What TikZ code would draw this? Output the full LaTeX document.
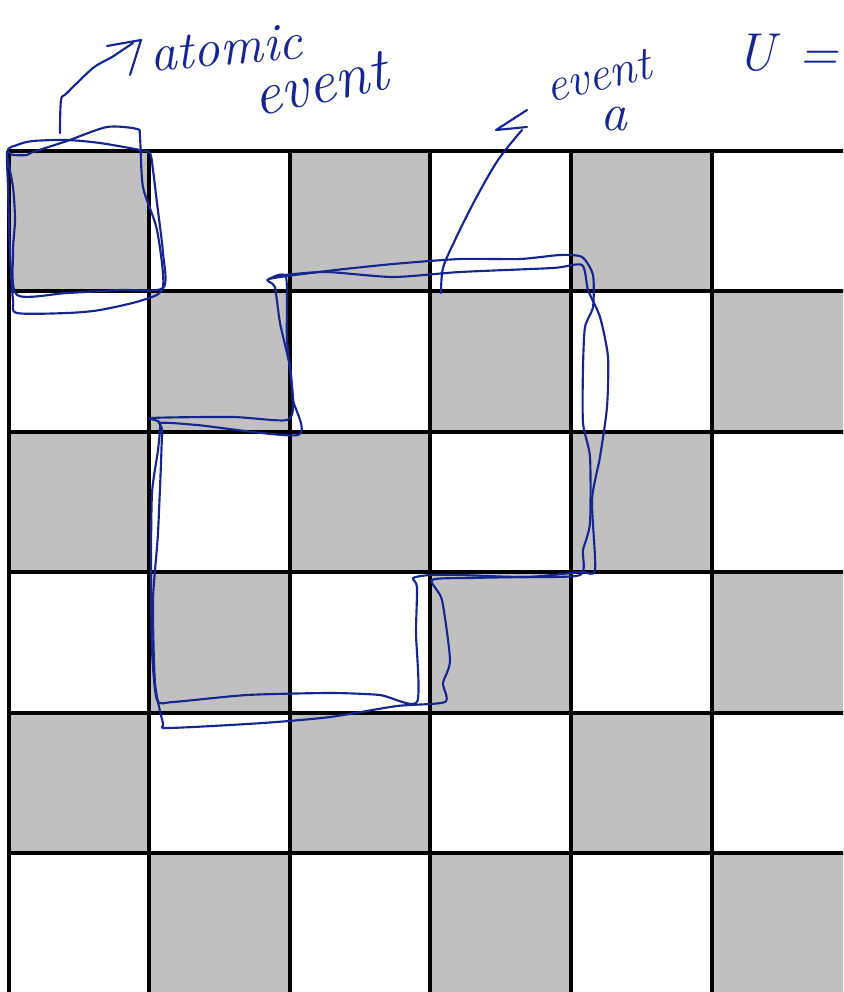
\documentclass[tikz,border=0pt]{standalone}
\usepackage{fontspec}
\definecolor{inkblue}{RGB}{22,38,145}
\definecolor{cellgray}{RGB}{192,192,192}
\begin{document}
\begin{tikzpicture}[x=0.75pt,y=-0.75pt,
  ink/.style={draw=inkblue,line width=1.6pt,line cap=round,line join=round},
  gridline/.style={draw=black,line width=3pt},
  hand/.style={text=inkblue,inner sep=0pt,font=\itshape\fontsize{40}{44}\selectfont}]
\useasboundingbox (0,0) rectangle (843,992);
\clip (0,0) rectangle (843,992);
\fill[white] (0,0) rectangle (843,992);
% checkerboard cells
\foreach \i in {0,...,5}{
  \foreach \j in {0,...,5}{
    \pgfmathtruncatemacro\cellpar{mod(\i+\j,2)}
    \ifnum\cellpar=0
      \fill[cellgray] (8.5+140.6*\i,151+140.4*\j) rectangle ++(140.6,140.4);
    \fi
  }
}
% grid lines
\foreach \k in {0,...,5}{
  \draw[gridline] (8.5+140.6*\k,151) -- (8.5+140.6*\k,1000);
  \draw[gridline] (7,151+140.4*\k) -- (850,151+140.4*\k);
}
% atomic event loop
\draw[ink] plot[smooth cycle,tension=0.45] coordinates {(7,152) (17,145) (33,141) (67,140) (100,143) (140,150) (150,153) (153,170) (157,203) (163,253) (163,288) (120,290) (67,293) (17,295) (13,253) (15,220) (13,187)};
\draw[ink] plot[smooth cycle,tension=0.45] coordinates {(7,153) (13,155) (27,155) (33,152) (67,141) (107,127) (137,129) (140,137) (143,187) (157,230) (163,287) (143,300) (100,310) (67,313) (17,313) (13,300) (10,253) (8,187)};
% event a loop
\draw[ink] plot[smooth cycle,tension=0.4] coordinates {(269,279) (327,271) (393,264) (460,259) (520,259) (560,255) (582,257) (593,275) (593,307) (585,327) (583,367) (583,423) (590,457) (590,523) (583,550) (580,575) (520,577) (470,578) (432,580) (442,600) (450,660) (443,683) (445,702) (397,706) (330,717) (263,723) (168,728) (163,723) (155,683) (153,600) (158,533) (162,433) (160,423) (197,425) (298,435) (293,400) (290,367) (280,323) (275,287)};
\draw[ink] plot[smooth cycle,tension=0.4] coordinates {(269,279) (285,275) (327,272) (393,277) (460,272) (553,268) (582,265) (588,290) (600,317) (608,357) (607,407) (600,457) (592,500) (595,570) (580,572) (527,577) (460,575) (430,575) (413,578) (417,587) (416,633) (417,702) (380,695) (330,693) (247,695) (173,702) (157,700) (152,650) (151,567) (152,493) (158,450) (160,423) (152,418) (233,417) (287,420) (293,400) (287,340) (286,277)};
% labels
\node[hand,rotate=5] (atomic) at (226,48) {atomic};
\node[hand,rotate=12,font=\itshape\fontsize{46}{50}\selectfont] (event1) at (320,84) {event};
\node[hand,rotate=13,font=\itshape\fontsize{36}{40}\selectfont] (event2) at (598,76) {event};
\node[hand] (alabel) at (614,119) {a};
\node[hand,anchor=base west] (U) at (736,70) {U\hspace{0.45em}=};
% arrows
\draw[ink] plot[smooth,tension=0.5] coordinates {(60,133) (61,100) (67,93) (93,68) (112,57) (133,43)};
\draw[ink] (107,46) -- (141,40) -- (130,75);
\draw[ink] plot[smooth,tension=0.5] coordinates {(441,293) (443,268) (455,240) (475,200) (498,160) (522,130)};
\draw[ink] (527,110) -- (496,130) -- (527,127);
\end{tikzpicture}
\end{document}
